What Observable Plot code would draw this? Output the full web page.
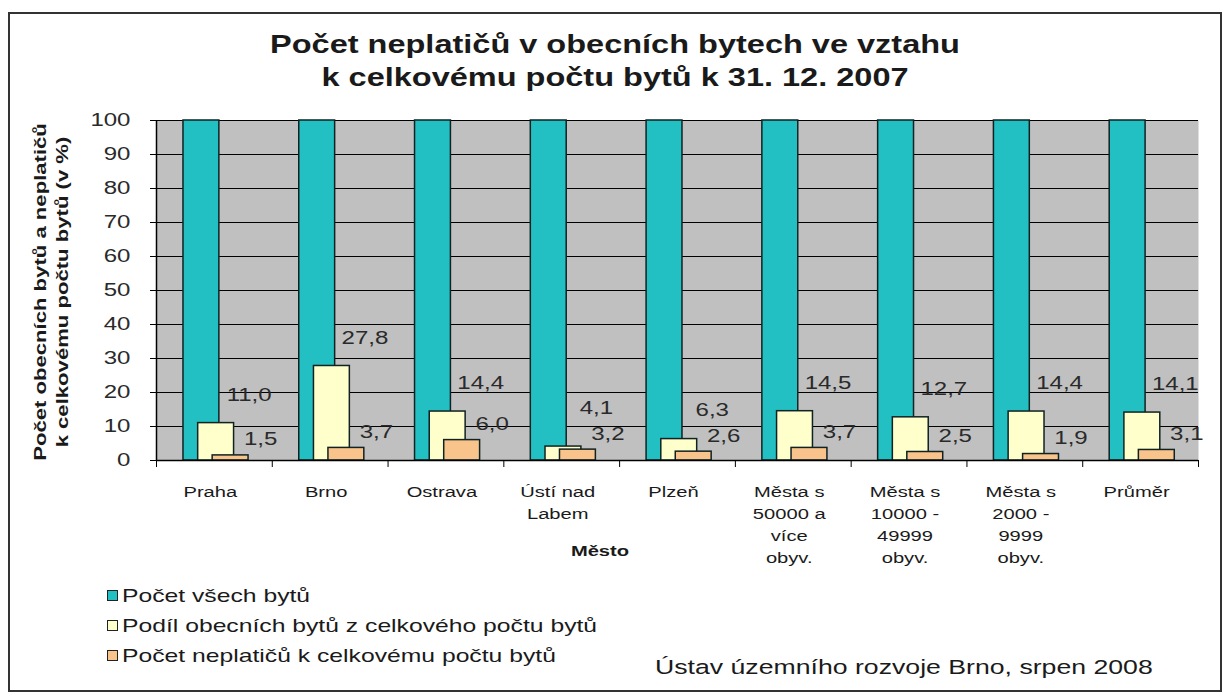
<!DOCTYPE html>
<html>
<head>
<meta charset="utf-8">
<script src="https://cdn.jsdelivr.net/npm/d3@7"></script>
<script src="https://cdn.jsdelivr.net/npm/@observablehq/plot@0.6"></script>
<style>
  body { margin: 0; background: #fff; font-family: "Liberation Sans", Arial, sans-serif; }
  #page { position: relative; width: 1229px; height: 698px; overflow: hidden; background: #fff; }
  #frame { position: absolute; left: 8px; top: 12px; width: 1214px; height: 680px; border: 2px solid #333; box-sizing: border-box; }
  #chart { position: absolute; left: 0; top: 0; }
  .abs { position: absolute; white-space: nowrap; color: #1a1a1a; }
  #title { left: 615px; top: 61px; font-weight: bold; font-size: 25px; line-height: 33px; text-align: center;
           transform: translate(-50%, -50%) scaleX(1.3); }
  #ytitle { left: 52px; top: 292px; font-weight: bold; font-size: 17px; line-height: 22px; text-align: center;
            transform: translate(-50%, -50%) rotate(-90deg) scaleX(1.3); }
  #xtitle { left: 600px; top: 551px; font-weight: bold; font-size: 15.5px; transform: translate(-50%, -50%) scaleX(1.3); }
  #source { left: 655px; top: 667px; font-size: 20.5px; transform: translateY(-50%) scaleX(1.3); transform-origin: left center; }
  .leg { position: absolute; left: 107px; height: 20px; }
  .leg .sw { position: absolute; left: 0; top: 4px; width: 11px; height: 11px; border: 1.5px solid #222; box-sizing: border-box; }
  .leg .lt { position: absolute; left: 15px; top: 0; font-size: 19px; line-height: 20px; white-space: nowrap; color: #1a1a1a;
             transform: scaleX(1.3); transform-origin: left center; }
</style>
</head>
<body>
<div id="page">
  <div id="frame"></div>
  <div id="chart"></div>
  <div id="title" class="abs"></div>
  <div id="ytitle" class="abs"></div>
  <div id="xtitle" class="abs"></div>
  <div id="legend"></div>
  <div id="source" class="abs"></div>
</div>
<script>
// ---- data ----
const categories = ["Praha", "Brno", "Ostrava", "Ústí nad\nLabem", "Plzeň",
  "Města s\n50000 a\nvíce\nobyv.", "Města s\n10000 -\n49999\nobyv.", "Města s\n2000 -\n9999\nobyv.", "Průměr"];
const allFlats = [100, 100, 100, 100, 100, 100, 100, 100, 100];
const municipalShare = [11.0, 27.8, 14.4, 4.1, 6.3, 14.5, 12.7, 14.4, 14.1];
const debtorShare = [1.5, 3.7, 6.0, 3.2, 2.6, 3.7, 2.5, 1.9, 3.1];
const seriesNames = ["Počet všech bytů", "Podíl obecních bytů z celkového počtu bytů", "Počet neplatičů k celkovému počtu bytů"];
const yTicks = [0, 10, 20, 30, 40, 50, 60, 70, 80, 90, 100];
const titleLines = ["Počet neplatičů v obecních bytech ve vztahu", "k celkovému počtu bytů k 31. 12. 2007"];
const yTitleLines = ["Počet obecních bytů a neplatičů", "k celkovému počtu bytů (v %)"];
const xTitle = "Město";
const sourceText = "Ústav územního  rozvoje Brno, srpen 2008";

// ---- styles ----
const colors = ["#22c0c2", "#ffffcc", "#f9c48c"];
const barStroke = "#112222";
const BW = 0.31;                   // bar width (category units)
const OFFS = [0.233, 0.36, 0.485]; // bar offsets within a category
const K = 1.3;                     // horizontal text stretch
const fmt = v => v.toFixed(1).replace(".", ",");

const rows = categories.map((c, i) => ({ i, c, all: allFlats[i], share: municipalShare[i], debt: debtorShare[i] }));

const chart = Plot.plot({
  width: 1229,
  height: 698,
  marginLeft: 156,
  marginRight: 31,
  marginTop: 120,
  marginBottom: 238,
  style: { background: "transparent", fontFamily: "Liberation Sans, Arial, sans-serif", color: "#1a1a1a", overflow: "visible" },
  x: { domain: [0, categories.length], axis: null },
  y: { domain: [0, 100], axis: null },
  marks: [
    Plot.frame({ fill: "#c0c0c0", stroke: null }),
    Plot.gridY(yTicks, { stroke: "#000", strokeOpacity: 1, strokeWidth: 1.2 }),
    Plot.rect(rows, { x1: d => d.i + OFFS[0], x2: d => d.i + OFFS[0] + BW, y1: d => 0, y2: "all", fill: colors[0], stroke: barStroke, strokeWidth: 1.5 }),
    Plot.rect(rows, { x1: d => d.i + OFFS[1], x2: d => d.i + OFFS[1] + BW, y1: d => 0, y2: "share", fill: colors[1], stroke: barStroke, strokeWidth: 1.5 }),
    Plot.rect(rows, { x1: d => d.i + OFFS[2], x2: d => d.i + OFFS[2] + BW, y1: d => 0, y2: "debt", fill: colors[2], stroke: barStroke, strokeWidth: 1.5 }),
    Plot.ruleX([0], { stroke: "#000", strokeWidth: 1.5 }),
    Plot.ruleY([0], { stroke: "#000", strokeWidth: 1.5 }),
    Plot.axisY(yTicks, { tickSize: 6, tickPadding: 20, fontSize: 18.5, label: null, stroke: "#000", fill: "#2a2a2a" }),
    Plot.axisX(d3.range(0, categories.length + 1), { tickSize: 7, tickFormat: () => "", label: null, stroke: "#000" }),
    Plot.text(rows, { x: d => d.i + 0.5, y: d => 0, text: "c", lineAnchor: "top", dy: 21, dx: -4, fontSize: 15.5, lineHeight: 1.42, fill: "#1a1a1a" }),
    // share label sits above its bar, pushed up when the debtor label below would collide
    Plot.text(rows, { x: d => d.i + OFFS[1] + BW / 2, y: d => Math.max(d.share, d.debt + 4), text: d => fmt(d.share), dx: 33, dy: -28, fontSize: 18.5, fill: "#2a2a2a" }),
    Plot.text(rows, { x: d => d.i + OFFS[2] + BW / 2, y: "debt", text: d => fmt(d.debt), dx: 30, dy: -16, fontSize: 18.5, fill: "#2a2a2a" })
  ]
});
document.getElementById("chart").appendChild(chart);

// stretch svg text horizontally (wide rendering of the original), keeping each text's anchor fixed
chart.querySelectorAll("text").forEach(t => {
  if (!t.textContent) return;
  const holder = t.closest("[text-anchor]");
  const anchor = holder ? holder.getAttribute("text-anchor") : "start";
  const b = t.getBBox();
  const ax = anchor === "end" ? b.x + b.width : anchor === "middle" ? b.x + b.width / 2 : b.x;
  const prev = t.getAttribute("transform") || "";
  t.setAttribute("transform", `${prev} translate(${ax},0) scale(${K},1) translate(${-ax},0)`.trim());
});

document.getElementById("title").innerHTML = titleLines.join("<br>");
document.getElementById("ytitle").innerHTML = yTitleLines.join("<br>");
document.getElementById("xtitle").textContent = xTitle;
document.getElementById("source").textContent = sourceText;

const legend = document.getElementById("legend");
seriesNames.forEach((name, i) => {
  const row = document.createElement("div");
  row.className = "leg";
  row.style.top = (586 + i * 30) + "px";
  const sw = document.createElement("div");
  sw.className = "sw";
  sw.style.background = colors[i];
  const lt = document.createElement("div");
  lt.className = "lt";
  lt.textContent = name;
  row.appendChild(sw);
  row.appendChild(lt);
  legend.appendChild(row);
});
</script>
</body>
</html>
